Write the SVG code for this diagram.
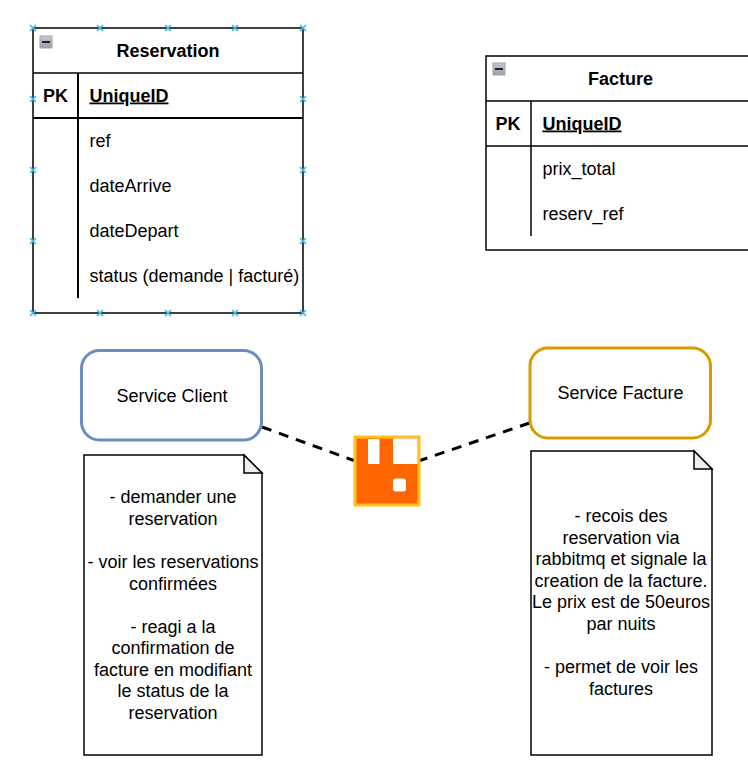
<svg xmlns="http://www.w3.org/2000/svg" width="748" height="776" viewBox="0 0 748 776">
<defs>
<linearGradient id="btn" x1="0" y1="0" x2="0" y2="1"><stop offset="0" stop-color="#c4c8cf"/><stop offset="1" stop-color="#9a9ea6"/></linearGradient>
<g id="minus"><rect x="0" y="0" width="12" height="12" fill="url(#btn)" stroke="#a0a4ab" stroke-width="1"/><rect x="2" y="5" width="8" height="2" fill="#222"/></g>
<path id="sel" d="M-3 -3L3 3M-3 3L3 -3" stroke="#3dbbe8" stroke-width="1.6" fill="none"/>
</defs>
<style>
text{font-family:"Liberation Sans",Arial,sans-serif;font-size:18px;fill:#000}
.b{font-weight:bold}
.u{text-decoration:underline}
.m{text-anchor:middle}
.l{stroke:#000;stroke-width:1.5;fill:none}
.t{stroke:#000;stroke-width:2;fill:none}
.n{fill:#fff;stroke:#000;stroke-width:1.5}
.f{fill:#eee;stroke:#000;stroke-width:1.5}
</style>
<rect width="748" height="776" fill="#fff"/>
<g id="connectors">
<path d="M262 427L354 460.500" stroke="#000" stroke-width="3" stroke-dasharray="10 8" fill="none"/>
<path d="M529.500 423L420 460.500" stroke="#000" stroke-width="3" stroke-dasharray="10 8" fill="none"/>
</g>
<g id="reservation">
<rect x="33" y="28" width="270" height="285" fill="#fff" class="l"/>
<path class="l" d="M33 73H303"/>
<path class="t" d="M33 118H303"/>
<path class="t" d="M78 73V298"/>
<use href="#minus" x="40" y="36"/>
<text class="b m" x="168" y="56.500">Reservation</text>
<text class="b m" x="55.500" y="101.500">PK</text>
<text class="b u" x="89.500" y="101.500">UniqueID</text>
<text x="89.500" y="146.500">ref</text>
<text x="89.500" y="191.500">dateArrive</text>
<text x="89.500" y="236.500">dateDepart</text>
<text x="89.500" y="281.500">status (demande | facturé)</text>
<use href="#sel" x="33" y="28"/><use href="#sel" x="100" y="28"/><use href="#sel" x="168" y="28"/><use href="#sel" x="235" y="28"/><use href="#sel" x="303" y="28"/>
<use href="#sel" x="33" y="99"/><use href="#sel" x="303" y="99"/>
<use href="#sel" x="33" y="170"/><use href="#sel" x="303" y="170"/>
<use href="#sel" x="33" y="241"/><use href="#sel" x="303" y="241"/>
<use href="#sel" x="33" y="313"/><use href="#sel" x="100" y="313"/><use href="#sel" x="168" y="313"/><use href="#sel" x="235" y="313"/><use href="#sel" x="303" y="313"/>
</g>
<g id="facture">
<rect x="486" y="56" width="280" height="194" fill="#fff" class="l"/>
<path class="l" d="M486 101H748"/>
<path class="l" d="M486 146H748"/>
<path class="l" d="M531 101V236"/>
<use href="#minus" x="493" y="63"/>
<text class="b m" x="620.500" y="84.500">Facture</text>
<text class="b m" x="508" y="129.500">PK</text>
<text class="b u" x="542.500" y="129.500">UniqueID</text>
<text x="542.500" y="175">prix_total</text>
<text x="542.500" y="219.500">reserv_ref</text>
</g>
<g id="service-client">
<rect x="81.500" y="350.500" width="180" height="89.500" rx="18" fill="#fff" stroke="#6c8ebf" stroke-width="3"/>
<text class="m" x="172" y="401.500">Service Client</text>
</g>
<g id="service-facture">
<rect x="530" y="348" width="180.500" height="90" rx="18" fill="#fff" stroke="#d79b00" stroke-width="3"/>
<text class="m" x="620.500" y="399">Service Facture</text>
</g>
<g id="rabbitmq">
<rect x="355" y="437" width="64" height="68" fill="#f60" stroke="#ffc01f" stroke-width="3"/>
<rect x="368" y="439" width="11.500" height="25" rx="1" fill="#fff"/>
<rect x="393" y="438.500" width="24.500" height="25.500" fill="#fff"/>
<rect x="393" y="478.500" width="13" height="13" rx="3" fill="#fff"/>
</g>
<g id="note-client">
<path class="n" d="M84 455H244L262 473V755H84Z"/>
<path class="f" d="M244 455V473H262Z"/>
<text class="m" x="173" y="503">- demander une</text>
<text class="m" x="173" y="524.500">reservation</text>
<text class="m" x="173" y="568">- voir les reservations</text>
<text class="m" x="173" y="589.500">confirmées</text>
<text class="m" x="173" y="632.500">- reagi a la</text>
<text class="m" x="173" y="654">confirmation de</text>
<text class="m" x="173" y="675.500">facture en modifiant</text>
<text class="m" x="173" y="697">le status de la</text>
<text class="m" x="173" y="718.500">reservation</text>
</g>
<g id="note-facture">
<path class="n" d="M531 451H694L712 469V755H531Z"/>
<path class="f" d="M694 451V469H712Z"/>
<text class="m" x="621" y="522">- recois des</text>
<text class="m" x="621" y="543.500">reservation via</text>
<text class="m" x="621" y="565">rabbitmq et signale la</text>
<text class="m" x="621" y="586.500">creation de la facture.</text>
<text class="m" x="621" y="608">Le prix est de 50euros</text>
<text class="m" x="621" y="629.500">par nuits</text>
<text class="m" x="621" y="673">- permet de voir les</text>
<text class="m" x="621" y="694.500">factures</text>
</g>
</svg>
